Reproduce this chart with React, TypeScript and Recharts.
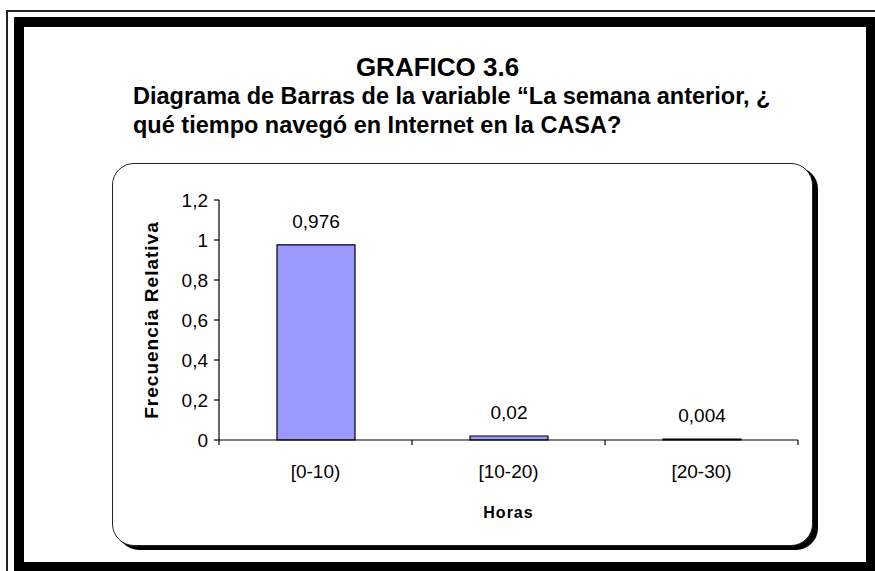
import { BarChart, Bar, XAxis, YAxis, LabelList, Label } from 'recharts'

const categorias = ['[0-10)', '[10-20)', '[20-30)']
const frecuencias = [0.976, 0.02, 0.004]
const etiquetas = ['0,976', '0,02', '0,004']
const ticksY = [0, 0.2, 0.4, 0.6, 0.8, 1, 1.2]
// bordes de categoria (enteros) y centros (medios)
const ticksX = [0, 0.5, 1, 1.5, 2, 2.5, 3]

const data = categorias.map((c, i) => ({ cat: c, pos: i + 0.5, valor: frecuencias[i], etiqueta: etiquetas[i] }))

const FONT = 'Arial, "Liberation Sans", sans-serif'

function fmtComa(v: number) {
  return String(v).replace('.', ',')
}

function TickX(props: any) {
  const { x, y, payload } = props
  const v = payload.value as number
  if (Number.isInteger(v)) {
    return <line x1={x} y1={y} x2={x} y2={y + 5} stroke="#000" strokeWidth={1.2} />
  }
  return (
    <text x={x} y={y} dy={38} textAnchor="middle" fontSize={19} fill="#000" fontFamily={FONT}>
      {categorias[Math.floor(v)]}
    </text>
  )
}

export default function App() {
  return (
    <div style={{ position: 'absolute', left: 0, top: 0, width: 875, height: 571, overflow: 'hidden', background: '#fff', fontFamily: FONT }}>
      {/* marco doble */}
      <div style={{ position: 'absolute', left: 6, top: 10, width: 900, height: 900, border: '2px solid #222' }} />
      <div style={{ position: 'absolute', left: 14, top: 17, width: 842, height: 535, border: '10px solid #000', background: '#fff' }} />

      {/* titulos */}
      <div style={{ position: 'absolute', left: 0, width: 875, top: 52, textAlign: 'center', fontWeight: 700, fontSize: 26, lineHeight: '30px' }}>
        GRAFICO 3.6
      </div>
      <div style={{ position: 'absolute', left: 133, top: 82, width: 740, fontWeight: 700, fontSize: 23.5, lineHeight: '29px' }}>
        Diagrama de Barras de la variable “La semana anterior, ¿<br />
        qué tiempo navegó en Internet en la CASA?
      </div>

      {/* area del grafico */}
      <div style={{
        position: 'absolute', left: 112, top: 163, width: 701, height: 383, boxSizing: 'border-box',
        border: '1.5px solid #222', borderRadius: 22, boxShadow: '5px 4px 0 #000', background: '#fff',
      }}>
        <div style={{ position: 'absolute', left: -1.5, top: -1.5 }}>
          <BarChart width={701} height={383} data={data} margin={{ top: 37, right: 15, bottom: 26, left: 37 }}>
            <XAxis dataKey="cat" hide height={0} />
            <XAxis
              xAxisId="bordes"
              dataKey="pos"
              type="number"
              domain={[0, 3]}
              allowDataOverflow
              ticks={ticksX}
              interval={0}
              height={80}
              tickSize={0}
              tickMargin={0}
              tickLine={false}
              tick={<TickX />}
              axisLine={{ stroke: '#000', strokeWidth: 1.2 }}
            >
              <Label value="Horas" position="insideBottom" offset={2}
                style={{ fontSize: 16, fontWeight: 700, fill: '#000', fontFamily: FONT, letterSpacing: 1 }} />
            </XAxis>
            <YAxis
              domain={[0, 1.2]}
              ticks={ticksY}
              width={70}
              tickFormatter={fmtComa}
              tickSize={5}
              tickMargin={6}
              axisLine={{ stroke: '#000', strokeWidth: 1.2 }}
              tickLine={{ stroke: '#000', strokeWidth: 1.2 }}
              tick={{ fontSize: 19, fill: '#000', fontFamily: FONT }}
            >
              <Label value="Frecuencia Relativa" angle={-90} position="center" dx={-33}
                style={{ fontSize: 19, fontWeight: 700, fill: '#000', fontFamily: FONT, letterSpacing: 1, textAnchor: 'middle' }} />
            </YAxis>
            <Bar dataKey="valor" fill="#9999FF" stroke="#000" strokeWidth={1.2} barSize={78} isAnimationActive={false}>
              <LabelList dataKey="etiqueta" position="top" offset={17}
                style={{ fontSize: 19, fill: '#000', fontFamily: FONT }} />
            </Bar>
          </BarChart>
        </div>
      </div>
    </div>
  )
}
